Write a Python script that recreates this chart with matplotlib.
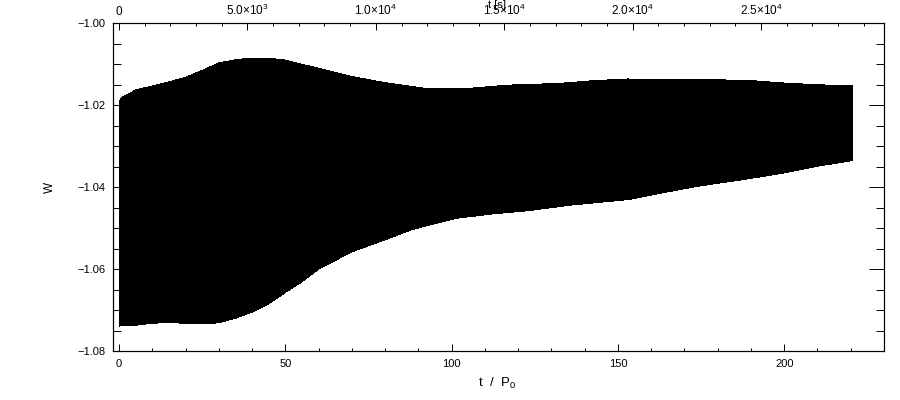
import numpy as np
import matplotlib
matplotlib.use("Agg")
import matplotlib.pyplot as plt
from matplotlib.ticker import MultipleLocator, FixedLocator, FuncFormatter

plt.rcParams['font.family'] = ['Liberation Sans', 'DejaVu Sans']
plt.rcParams['font.size'] = 8
plt.rcParams['mathtext.fontset'] = 'custom'
plt.rcParams['mathtext.rm'] = 'Liberation Sans'
plt.rcParams['mathtext.it'] = 'Liberation Sans:italic'

#==========================
# 1. ENVELOPE OF W(t / P0)
#==========================
# upper and lower edges of the (densely oscillating) signal
t_upper = [0, 1, 3, 5, 10, 15, 20, 25, 30, 35, 40, 45, 50, 55, 60, 70, 80,
           92, 105, 117, 132, 143, 153, 165, 175, 190, 202, 213, 220.5]
w_upper = [-1.0192, -1.0180, -1.0172, -1.0163, -1.0153, -1.0143, -1.0132,
           -1.0115, -1.0097, -1.0089, -1.0085, -1.0085, -1.0090, -1.0100,
           -1.0110, -1.0130, -1.0145, -1.0159, -1.0159, -1.0151, -1.0147,
           -1.0140, -1.0136, -1.0137, -1.0137, -1.0140, -1.0147, -1.0151,
           -1.0153]

t_lower = [0, 5, 10, 15, 20, 25, 30, 35, 40, 45, 50, 55, 60, 70, 81.5, 85,
           88, 93.5, 101.5, 111.5, 123.5, 135.6, 153.6, 162.6, 174.6,
           186.6, 198.7, 210.7, 220.5]
w_lower = [-1.0739, -1.0737, -1.0732, -1.0731, -1.0732, -1.0734, -1.0731,
           -1.0720, -1.0705, -1.0685, -1.0657, -1.0631, -1.0600, -1.0558,
           -1.0524, -1.0513, -1.0504, -1.0492, -1.0476, -1.0466, -1.0457,
           -1.0444, -1.0430, -1.0415, -1.0397, -1.0383, -1.0367, -1.0348,
           -1.0335]

# period P0 in seconds (top axis conversion)
P0 = 129.5
top_ticks = [0, 5000, 10000, 15000, 20000, 25000]
top_labels = ['0', r'5.0$\times$10$^{3}$', r'1.0$\times$10$^{4}$',
              r'1.5$\times$10$^{4}$', r'2.0$\times$10$^{4}$',
              r'2.5$\times$10$^{4}$']

#==========
# 2. FIGURE
#==========
fig = plt.figure(figsize=(9, 4), dpi=100)
ax = fig.add_axes([0.1252, 0.1225, 0.8570, 0.8193])

poly_t = np.concatenate([t_upper, t_lower[::-1]])
poly_w = np.concatenate([w_upper, w_lower[::-1]])
ax.fill(poly_t, poly_w, color='black', lw=0, antialiased=False)

ax.set_xlim(-1.9, 230)
ax.set_ylim(-1.08, -1.00)

ax.xaxis.set_major_locator(MultipleLocator(50))
ax.xaxis.set_minor_locator(MultipleLocator(10))
ax.yaxis.set_major_locator(MultipleLocator(0.02))
ax.yaxis.set_minor_locator(MultipleLocator(0.005))
ax.yaxis.set_major_formatter(FuncFormatter(lambda v, p: f"{v:.2f}".replace('-', '\u2212')))

ax.tick_params(axis='x', which='major', direction='in', length=5, width=0.7,
               top=False, pad=6)
ax.tick_params(axis='x', which='minor', direction='in', length=2.4, width=0.7,
               top=False)
ax.tick_params(axis='y', which='major', direction='in', length=10.8, width=0.7,
               right=True, pad=5.5)
ax.tick_params(axis='y', which='minor', direction='in', length=5.5, width=0.7,
               right=True)
for s in ax.spines.values():
    s.set_linewidth(0.8)

# top axis in seconds
ax2 = ax.twiny()
ax2.set_xlim(ax.get_xlim()[0] * P0, ax.get_xlim()[1] * P0)
ax2.xaxis.set_major_locator(FixedLocator(top_ticks))
ax2.set_xticklabels(top_labels, fontsize=8.5)
ax2.xaxis.set_minor_locator(MultipleLocator(1000))
ax2.tick_params(axis='x', which='major', direction='in', length=5, width=0.7, pad=4)
ax2.tick_params(axis='x', which='minor', direction='in', length=2.4, width=0.7)

fig.text(497 / 900, 1 - 383 / 400, 't  /  P$_0$', ha='center', va='center', fontsize=9.5)
fig.text(50 / 900, 1 - 187 / 400, 'W', ha='center', va='center', rotation=90, fontsize=8.5)
fig.text(497 / 900, 1 - 5 / 400, 't [s]', ha='center', va='center', fontsize=8)

fig.savefig('out.png', dpi=100)
